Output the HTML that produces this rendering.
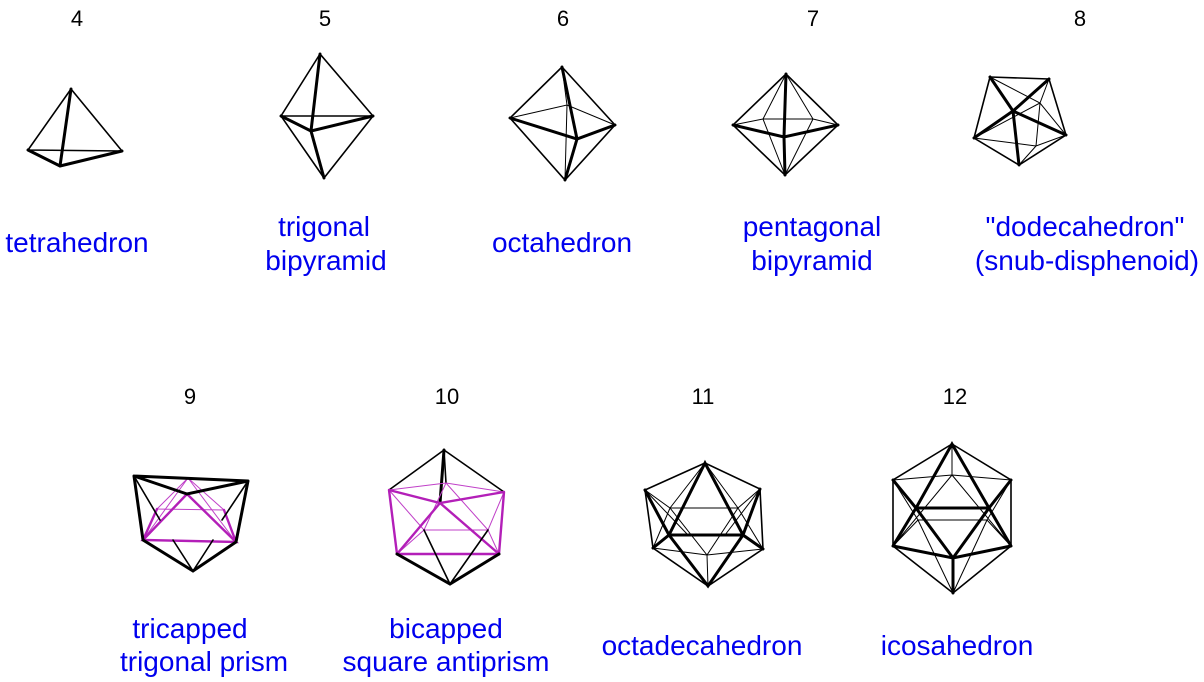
<!DOCTYPE html>
<html><head><style>
body{margin:0;background:#fff;}
svg{display:block;}
text{font-family:"Liberation Sans",Arial,sans-serif;}
.n{font-size:22px;fill:#000;text-anchor:middle;}
.l{font-size:28px;fill:#0000ee;text-anchor:middle;}
.k{stroke:#000;fill:none;stroke-width:1.6;stroke-linecap:round;}
.t{stroke:#000;fill:none;stroke-width:3;stroke-linecap:round;}
.h{stroke:#000;fill:none;stroke-width:1;}
.m{stroke:#b31fb8;fill:none;stroke-width:2.4;stroke-linecap:round;}
.mh{stroke:#c040c8;fill:none;stroke-width:1;}
</style></head><body>
<svg width="1204" height="682" viewBox="0 0 1204 682">
<text class="n" x="77" y="26">4</text>
<text class="n" x="325" y="26">5</text>
<text class="n" x="563" y="26">6</text>
<text class="n" x="813" y="26">7</text>
<text class="n" x="1080" y="26">8</text>
<text class="l" x="77" y="252">tetrahedron</text>
<text class="l" x="324" y="236">trigonal</text>
<text class="l" x="326" y="270">bipyramid</text>
<text class="l" x="562" y="252">octahedron</text>
<text class="l" x="812" y="236">pentagonal</text>
<text class="l" x="812" y="270">bipyramid</text>
<text class="l" x="1085" y="236">"dodecahedron"</text>
<text class="l" x="1087" y="270">(snub-disphenoid)</text>
<text class="n" x="190" y="404">9</text>
<text class="n" x="447" y="404">10</text>
<text class="n" x="703" y="404">11</text>
<text class="n" x="955" y="404">12</text>
<text class="l" x="190" y="638">tricapped</text>
<text class="l" x="204" y="671">trigonal prism</text>
<text class="l" x="446" y="638">bicapped</text>
<text class="l" x="446" y="671">square antiprism</text>
<text class="l" x="702" y="655">octadecahedron</text>
<text class="l" x="957" y="655">icosahedron</text>

<!-- 4 tetrahedron -->
<path class="k" d="M71,89 L28,150 M71,89 L122,151 M28,150 L122,151"/>
<path class="t" d="M71,89 L60,166 M28,150 L60,166 L122,151"/>

<!-- 5 trigonal bipyramid -->
<path class="k" d="M320,54 L281,116 L324,178 L373,116 Z M281,116 L373,116"/>
<path class="t" d="M320,54 L311,131 L324,178 M281,116 L311,131 L373,116"/>

<!-- 6 octahedron -->
<path class="k" d="M562,67 L510,118 L565,180 L615,125 Z"/>
<path class="h" d="M510,118 L567,105 L615,125 M562,67 L567,105 L565,180"/>
<path class="t" d="M562,67 L577,139 L565,180 M510,118 L577,139 L615,125"/>

<!-- 7 pentagonal bipyramid -->
<path class="k" d="M786,74 L733,125 L785,175 L838,125 Z"/>
<path class="h" d="M733,125 L763,119 L813,119 L838,125 M786,74 L763,119 L785,175 M786,74 L813,119 L785,175"/>
<path class="t" d="M786,74 L784,137 L785,175 M733,125 L784,137 L838,125"/>

<!-- 8 snub disphenoid -->
<path class="k" d="M990,77 L1049,79 L1066,135 L1019,165 L974,138 Z"/>
<path class="h" d="M990,77 L1040,103 L1066,135 M974,138 L1040,103 L1049,79 M974,138 L1036,146 L1066,135 M1019,165 L1036,146 L1040,103"/>
<path class="t" d="M990,77 L1013,111 L1049,79 M974,138 L1013,111 L1066,135 M1013,111 L1019,165"/>

<!-- 9 tricapped trigonal prism -->
<path class="mh" d="M188,478 L157,509 L224,510 Z M188,478 L143,540 M188,478 L236,542"/>
<path class="m" d="M187,494 L143,540 L236,542 Z M157,509 L143,540 M224,510 L236,542"/>
<path class="t" d="M134,476 L187,494 L248,481 M134,476 L248,481 M134,476 L143,540 L193,571 L236,542 L248,481"/>
<path class="k" d="M134,476 L160,520 M248,481 L222,520 M173,540 L193,571 L213,540"/>

<!-- 10 bicapped square antiprism -->
<path class="k" d="M444,450 L389,490 M444,450 L504,492 M444,450 L446,483"/>
<path class="t" d="M444,450 L440,503"/>
<path class="mh" d="M389,490 L446,483 L504,492 M446,483 L424,530 M446,483 L488,530 M424,530 L488,530 M389,490 L424,530 M504,492 L488,530 M424,530 L397,554 M488,530 L499,554"/>
<path class="m" d="M389,490 L440,503 L504,492 M389,490 L397,554 L499,554 L504,492 M440,503 L397,554 M440,503 L499,554 M389,490 L397,554"/>
<path class="t" d="M397,554 L450,584 L499,554"/>
<path class="k" d="M424,530 L450,584 L488,530"/>

<!-- 11 octadecahedron -->
<path class="k" d="M705,463 L645,490 L653,548 L708,586 L763,549 L760,489 Z"/>
<path class="h" d="M645,490 L670,508 L738,508 L760,489 M705,463 L670,508 M705,463 L738,508 M653,548 L707,555 L763,549 M670,508 L707,555 L738,508 M707,555 L708,586 M645,490 L688,535 M760,489 L725,535 M670,508 L653,548 M738,508 L763,549"/>
<path class="t" d="M705,463 L669,535 L708,586 L743,535 Z M669,535 L743,535 M645,490 L669,535 L653,548 M760,489 L743,535 L763,549"/>

<!-- 12 icosahedron -->
<path class="k" d="M952,444 L893,480 L893,546 L953,593 L1011,546 L1011,480 Z"/>
<path class="h" d="M952,444 L952,475 M893,480 L952,475 L1011,480 M918,520 L987,520 M893,546 L952,475 M1011,546 L952,475 M893,480 L918,520 M1011,480 L987,520 M918,520 L953,593 M987,520 L953,593 M893,546 L918,520 M1011,546 L987,520"/>
<path class="t" d="M952,444 L916,508 L953,558 L989,508 Z M916,508 L989,508 M893,480 L916,508 L893,546 M1011,480 L989,508 L1011,546 M893,546 L953,558 L1011,546 M953,558 L953,593"/>
</svg>
</body></html>
